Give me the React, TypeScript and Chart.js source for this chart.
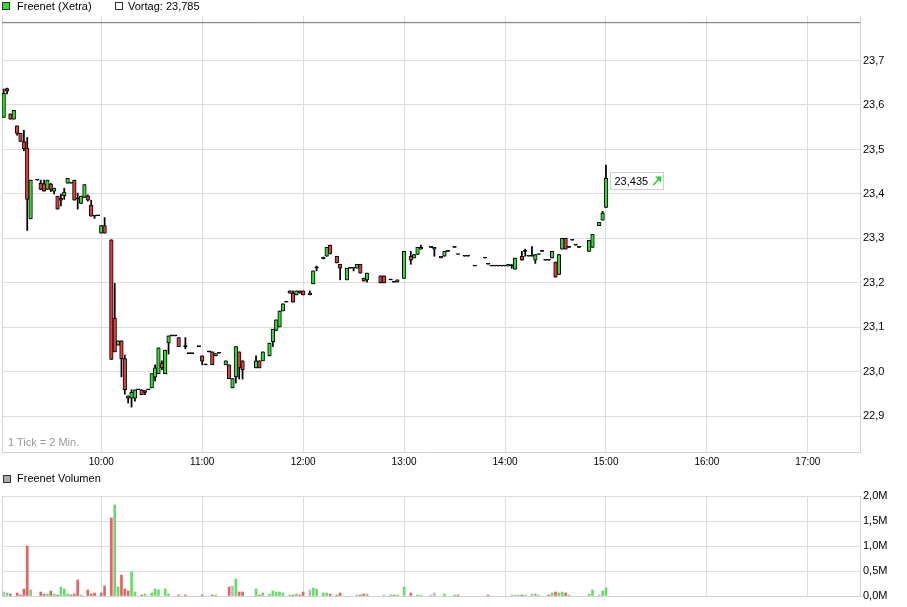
import React, { useEffect, useRef } from "react";
import { Chart, registerables } from "chart.js";

Chart.register(...registerables);

// ---------- data ----------
const instrumentName = "Freenet (Xetra)";
const volumeName = "Freenet Volumen";
const previousClose = 23.785;
const tickNote = "1 Tick = 2 Min.";

const axisStart = "09:01";
const axisEnd = "17:31";
const priceMin = 22.82;
const priceMax = 23.8;
const volumeMax = 2000000;

const timeTickLabels = ["10:00", "11:00", "12:00", "13:00", "14:00", "15:00", "16:00", "17:00"];
const priceTicks = [22.9, 23.0, 23.1, 23.2, 23.3, 23.4, 23.5, 23.6, 23.7];
const volumeTicks = [0, 500000, 1000000, 1500000, 2000000];

const candleTimes = [
  "09:02", "09:04", "09:06", "09:08", "09:10", "09:12", "09:14", "09:16", "09:18", "09:22",
  "09:24", "09:26", "09:28", "09:30", "09:32", "09:34", "09:36", "09:38", "09:40", "09:42",
  "09:44", "09:46", "09:48", "09:50", "09:52", "09:54", "09:56", "09:58", "10:00", "10:02",
  "10:06", "10:08", "10:10", "10:12", "10:14", "10:16", "10:18", "10:20", "10:22", "10:24",
  "10:26", "10:28", "10:30", "10:32", "10:34", "10:36", "10:38", "10:40", "10:42", "10:44",
  "10:46", "10:50", "10:52", "10:54", "10:58", "11:00", "11:02", "11:04", "11:06", "11:08",
  "11:10", "11:14", "11:16", "11:18", "11:20", "11:22", "11:24", "11:32", "11:34", "11:36",
  "11:40", "11:42", "11:44", "11:46", "11:48", "11:50", "11:52", "11:54", "11:56", "11:58",
  "12:00", "12:04", "12:06", "12:08", "12:12", "12:14", "12:16", "12:20", "12:22", "12:26",
  "12:28", "12:30", "12:32", "12:34", "12:36", "12:38", "12:46", "12:48", "12:52", "12:54",
  "12:56", "13:00", "13:04", "13:06", "13:08", "13:10", "13:16", "13:18", "13:22", "13:24",
  "13:26", "13:30", "13:32", "13:36", "13:38", "13:42", "13:48", "13:50", "13:52", "13:54",
  "13:56", "13:58", "14:00", "14:02", "14:04", "14:06", "14:10", "14:12", "14:14", "14:16",
  "14:18", "14:20", "14:22", "14:24", "14:26", "14:28", "14:30", "14:32", "14:34", "14:36",
  "14:38", "14:40", "14:42", "14:44", "14:50", "14:52", "14:56", "14:58", "15:00",
];

const opens = [
  23.572, 23.637, 23.58, 23.568, 23.553, 23.536, 23.518, 23.503, 23.344, 23.431,
  23.424, 23.423, 23.41, 23.422, 23.406, 23.395, 23.391, 23.396, 23.424, 23.424,
  23.431, 23.389, 23.379, 23.392, 23.396, 23.375, 23.35, 23.351, 23.312, 23.329,
  23.297, 23.121, 23.06, 23.07, 23.03, 22.946, 22.941, 22.941, 22.96, 22.96,
  22.958, 22.96, 22.964, 22.988, 22.996, 23.02, 22.996, 23.065, 23.081, 23.081,
  23.077, 23.057, 23.041, 23.041, 23.057, 23.036, 23.016, 23.045, 23.045, 23.036,
  23.042, 23.016, 23.016, 22.964, 22.989, 23.045, 23.025, 23.009, 23.025, 23.025,
  23.036, 23.068, 23.093, 23.101, 23.137, 23.157, 23.182, 23.177, 23.173, 23.182,
  23.182, 23.177, 23.198, 23.234, 23.254, 23.26, 23.285, 23.26, 23.242, 23.207,
  23.233, 23.233, 23.233, 23.242, 23.211, 23.207, 23.216, 23.216, 23.207, 23.202,
  23.202, 23.21, 23.26, 23.256, 23.264, 23.276, 23.28, 23.276, 23.26, 23.26,
  23.271, 23.28, 23.264, 23.26, 23.26, 23.238, 23.256, 23.242, 23.238, 23.238,
  23.238, 23.238, 23.238, 23.238, 23.238, 23.231, 23.26, 23.271, 23.26, 23.26,
  23.251, 23.264, 23.271, 23.251, 23.251, 23.256, 23.247, 23.219, 23.276, 23.3,
  23.28, 23.296, 23.285, 23.28, 23.271, 23.28, 23.329, 23.341, 23.37,
];

const highs = [
  23.636, 23.638, 23.58, 23.588, 23.553, 23.536, 23.543, 23.527, 23.431, 23.431,
  23.431, 23.431, 23.431, 23.424, 23.413, 23.395, 23.4, 23.413, 23.435, 23.424,
  23.431, 23.402, 23.395, 23.421, 23.398, 23.386, 23.35, 23.351, 23.329, 23.347,
  23.297, 23.199, 23.07, 23.07, 23.038, 22.946, 22.96, 22.96, 22.96, 22.96,
  22.958, 22.96, 22.996, 23.016, 23.054, 23.025, 23.049, 23.081, 23.081, 23.081,
  23.077, 23.077, 23.041, 23.041, 23.057, 23.036, 23.016, 23.045, 23.045, 23.041,
  23.042, 23.025, 23.016, 22.985, 23.057, 23.045, 23.025, 23.036, 23.025, 23.045,
  23.065, 23.096, 23.117, 23.137, 23.153, 23.157, 23.182, 23.182, 23.182, 23.182,
  23.182, 23.182, 23.227, 23.238, 23.258, 23.28, 23.285, 23.26, 23.242, 23.233,
  23.233, 23.233, 23.242, 23.242, 23.211, 23.222, 23.216, 23.216, 23.207, 23.202,
  23.207, 23.271, 23.271, 23.264, 23.28, 23.285, 23.28, 23.28, 23.26, 23.271,
  23.271, 23.28, 23.264, 23.26, 23.26, 23.238, 23.256, 23.242, 23.238, 23.238,
  23.238, 23.238, 23.238, 23.242, 23.242, 23.256, 23.271, 23.276, 23.26, 23.282,
  23.264, 23.264, 23.271, 23.251, 23.251, 23.271, 23.247, 23.264, 23.3, 23.3,
  23.28, 23.296, 23.285, 23.28, 23.296, 23.309, 23.336, 23.361, 23.465,
];

const lows = [
  23.572, 23.625, 23.568, 23.568, 23.532, 23.518, 23.497, 23.318, 23.344, 23.431,
  23.41, 23.406, 23.41, 23.405, 23.4, 23.366, 23.373, 23.388, 23.424, 23.424,
  23.386, 23.366, 23.379, 23.392, 23.384, 23.35, 23.345, 23.351, 23.312, 23.312,
  23.028, 23.045, 23.06, 22.989, 22.95, 22.93, 22.921, 22.934, 22.96, 22.949,
  22.949, 22.96, 22.964, 22.98, 22.996, 23.005, 22.996, 23.04, 23.081, 23.081,
  23.057, 23.052, 23.041, 23.041, 23.057, 23.016, 23.016, 23.045, 23.016, 23.036,
  23.042, 23.016, 22.985, 22.964, 22.975, 22.984, 22.984, 23.009, 23.009, 23.025,
  23.036, 23.057, 23.093, 23.101, 23.137, 23.157, 23.177, 23.157, 23.173, 23.177,
  23.173, 23.173, 23.198, 23.227, 23.254, 23.26, 23.265, 23.245, 23.207, 23.207,
  23.233, 23.227, 23.233, 23.222, 23.204, 23.202, 23.2, 23.2, 23.207, 23.202,
  23.202, 23.21, 23.242, 23.256, 23.264, 23.276, 23.28, 23.26, 23.256, 23.26,
  23.271, 23.28, 23.264, 23.26, 23.26, 23.238, 23.256, 23.242, 23.238, 23.238,
  23.238, 23.238, 23.238, 23.238, 23.233, 23.231, 23.251, 23.26, 23.26, 23.26,
  23.244, 23.264, 23.271, 23.251, 23.251, 23.256, 23.213, 23.219, 23.276, 23.276,
  23.28, 23.296, 23.285, 23.28, 23.271, 23.28, 23.329, 23.341, 23.37,
];

const closes = [
  23.626, 23.631, 23.568, 23.588, 23.536, 23.518, 23.502, 23.388, 23.431, 23.431,
  23.41, 23.406, 23.431, 23.41, 23.413, 23.366, 23.386, 23.404, 23.435, 23.424,
  23.386, 23.389, 23.395, 23.421, 23.386, 23.35, 23.35, 23.351, 23.329, 23.312,
  23.028, 23.045, 23.07, 23.03, 22.96, 22.941, 22.954, 22.96, 22.96, 22.949,
  22.954, 22.96, 22.996, 23.009, 23.054, 23.009, 23.049, 23.081, 23.081, 23.081,
  23.057, 23.057, 23.041, 23.041, 23.057, 23.024, 23.016, 23.045, 23.016, 23.041,
  23.042, 23.025, 22.985, 22.985, 23.057, 23.009, 23.005, 23.025, 23.009, 23.045,
  23.065, 23.096, 23.117, 23.137, 23.153, 23.157, 23.177, 23.157, 23.182, 23.177,
  23.173, 23.173, 23.227, 23.234, 23.258, 23.28, 23.265, 23.245, 23.233, 23.233,
  23.233, 23.233, 23.242, 23.222, 23.204, 23.222, 23.2, 23.2, 23.207, 23.202,
  23.207, 23.271, 23.251, 23.264, 23.28, 23.28, 23.28, 23.28, 23.256, 23.271,
  23.271, 23.28, 23.264, 23.26, 23.26, 23.238, 23.256, 23.242, 23.238, 23.238,
  23.238, 23.238, 23.238, 23.242, 23.238, 23.256, 23.251, 23.271, 23.26, 23.26,
  23.264, 23.264, 23.271, 23.251, 23.251, 23.271, 23.213, 23.264, 23.3, 23.276,
  23.28, 23.296, 23.285, 23.28, 23.296, 23.309, 23.336, 23.357, 23.435,
];

const volumeTimes = [
  "09:02", "09:04", "09:06", "09:10", "09:12", "09:14", "09:16", "09:18", "09:24", "09:26",
  "09:28", "09:30", "09:32", "09:34", "09:36", "09:38", "09:40", "09:42", "09:44", "09:46",
  "09:48", "09:52", "09:54", "09:56", "10:00", "10:02", "10:06", "10:08", "10:10", "10:12",
  "10:14", "10:16", "10:18", "10:20", "10:24", "10:26", "10:30", "10:32", "10:34", "10:38",
  "10:40", "10:46", "10:50", "11:00", "11:06", "11:08", "11:16", "11:18", "11:20", "11:22",
  "11:24", "11:32", "11:34", "11:36", "11:40", "11:42", "11:44", "11:46", "11:48", "11:52",
  "11:54", "11:56", "11:58", "12:00", "12:04", "12:06", "12:08", "12:12", "12:14", "12:16",
  "12:20", "12:22", "12:32", "12:34", "12:36", "12:38", "12:48", "12:52", "12:54", "12:56",
  "13:00", "13:04", "13:08", "13:10", "13:16", "13:18", "13:24", "13:30", "13:32", "13:50",
  "14:04", "14:06", "14:08", "14:10", "14:12", "14:16", "14:18", "14:20", "14:26", "14:28",
  "14:30", "14:32", "14:34", "14:36", "14:38", "14:50", "14:52", "14:56", "14:58", "15:00",
];

const volumes = [
  80000, 60000, 40000, 60000, 20000, 140000, 1000000, 120000, 80000, 40000,
  40000, 100000, 40000, 20000, 180000, 140000, 40000, 20000, 40000, 320000,
  20000, 120000, 40000, 60000, 60000, 200000, 1560000, 1820000, 180000, 420000,
  140000, 100000, 480000, 80000, 20000, 40000, 60000, 140000, 120000, 140000,
  40000, 20000, 20000, 20000, 20000, 20000, 180000, 200000, 340000, 80000,
  80000, 140000, 20000, 60000, 40000, 100000, 80000, 80000, 60000, 20000,
  20000, 40000, 20000, 80000, 120000, 160000, 140000, 60000, 60000, 40000,
  20000, 60000, 20000, 20000, 40000, 40000, 20000, 20000, 20000, 20000,
  180000, 60000, 20000, 20000, 20000, 60000, 40000, 20000, 20000, 20000,
  20000, 20000, 20000, 20000, 20000, 40000, 40000, 20000, 20000, 60000,
  80000, 60000, 80000, 60000, 20000, 40000, 120000, 20000, 100000, 160000,
];

// "u" = up, "d" = down, "f" = flat
const volumeDirections = [
  "f", "u", "d", "d", "d", "d", "d", "u", "d", "d",
  "u", "d", "u", "d", "u", "u", "u", "d", "d", "d",
  "u", "d", "d", "d", "d", "d", "d", "u", "u", "d",
  "d", "d", "u", "u", "d", "u", "u", "u", "u", "u",
  "u", "d", "d", "d", "d", "u", "d", "f", "u", "d",
  "d", "u", "d", "u", "u", "u", "u", "u", "u", "u",
  "d", "u", "d", "d", "f", "u", "u", "u", "u", "d",
  "d", "d", "u", "d", "d", "u", "f", "u", "d", "u",
  "u", "d", "u", "f", "f", "f", "u", "u", "d", "d",
  "f", "u", "f", "d", "u", "f", "u", "f", "d", "u",
  "d", "u", "u", "d", "u", "u", "u", "f", "u", "u",
];

// ---------- helpers ----------
const FONT = "'Liberation Sans', Arial, sans-serif";
const GRID = "#dddddd";
const UP = "#33dd33";
const DOWN = "#dd3f3f";

const toMin = (t: string) => {
  const [h, m] = t.split(":").map(Number);
  return h * 60 + m;
};
const fmtTime = (v: number) => {
  const h = Math.floor(v / 60);
  const m = Math.round(v - h * 60);
  return `${String(h).padStart(2, "0")}:${String(m).padStart(2, "0")}`;
};
const comma = (v: number, d: number) => v.toFixed(d).replace(".", ",");

const xMin = toMin(axisStart);
const xMax = toMin(axisEnd);

const timeScale = (showLabels: boolean, height: number) => ({
  type: "linear",
  min: xMin,
  max: xMax,
  offset: false,
  afterBuildTicks: (s: any) => {
    s.ticks = timeTickLabels.map((t) => ({ value: toMin(t) }));
  },
  afterFit: (s: any) => {
    s.height = height;
  },
  grid: { color: GRID, lineWidth: 1, drawTicks: false, offset: false },
  border: { display: false },
  ticks: {
    display: showLabels,
    padding: 4,
    color: "#000",
    font: { family: FONT, size: 10 },
    maxRotation: 0,
    autoSkip: false,
    callback: (v: any) => fmtTime(Number(v)),
  },
});

const framePlugin = {
  id: "frame",
  beforeDatasetsDraw(chart: any) {
    const { ctx, chartArea: a } = chart;
    ctx.save();
    ctx.strokeStyle = "#d2d2d2";
    ctx.lineWidth = 1;
    ctx.beginPath();
    ctx.moveTo(Math.round(a.left) + 0.5, a.top);
    ctx.lineTo(Math.round(a.left) + 0.5, Math.round(a.bottom) + 0.5);
    ctx.lineTo(Math.round(a.right) + 0.5, Math.round(a.bottom) + 0.5);
    ctx.lineTo(Math.round(a.right) + 0.5, a.top);
    ctx.stroke();
    ctx.restore();
  },
};

const lastPricePlugin = {
  id: "lastPrice",
  afterDatasetsDraw(chart: any) {
    const i = closes.length - 1;
    const x = chart.scales.x.getPixelForValue(toMin(candleTimes[i]));
    const y = chart.scales.y.getPixelForValue(closes[i]);
    const ctx = chart.ctx;
    const text = comma(closes[i], 3);
    ctx.save();
    ctx.font = `11px ${FONT}`;
    const tw = ctx.measureText(text).width;
    const bx = Math.round(x + 4) + 0.5;
    const by = Math.round(y - 6) + 0.5;
    const bw = Math.round(tw + 19);
    const bh = 17;
    ctx.fillStyle = "#ffffff";
    ctx.fillRect(bx, by, bw, bh);
    ctx.strokeStyle = "#cfcfcf";
    ctx.lineWidth = 1;
    ctx.strokeRect(bx, by, bw, bh);
    ctx.fillStyle = "#000";
    ctx.textBaseline = "middle";
    ctx.fillText(text, bx + 4, by + bh / 2 + 0.5);
    // green up-arrow
    const ax = bx + 4 + tw + 5;
    const ay = by + bh / 2;
    ctx.strokeStyle = "#22cc22";
    ctx.fillStyle = "#22cc22";
    ctx.lineWidth = 1.6;
    ctx.beginPath();
    ctx.moveTo(ax, ay + 4);
    ctx.lineTo(ax + 5.5, ay - 1.5);
    ctx.stroke();
    ctx.beginPath();
    ctx.moveTo(ax + 8, ay - 4.5);
    ctx.lineTo(ax + 8, ay + 1.5);
    ctx.lineTo(ax + 2, ay - 4.5);
    ctx.closePath();
    ctx.fill();
    ctx.restore();
  },
};

function PriceChart() {
  const ref = useRef<HTMLCanvasElement | null>(null);
  useEffect(() => {
    if (!ref.current) return;
    const bodyColors = candleTimes.map((_, i) =>
      closes[i] > opens[i] ? UP : closes[i] < opens[i] ? DOWN : "#000000"
    );
    const chart = new Chart(ref.current, {
      type: "bar",
      data: {
        datasets: [
          {
            type: "bar",
            label: "body",
            data: candleTimes.map((t, i) => ({ x: toMin(t), y: [opens[i], closes[i]] })),
            backgroundColor: bodyColors,
            borderColor: "#000000",
            borderWidth: 1,
            borderSkipped: false,
            barThickness: 3.6,
            minBarLength: 1,
            grouped: false,
            order: 0,
          } as any,
          {
            type: "bar",
            label: "wick",
            data: candleTimes.map((t, i) => ({ x: toMin(t), y: [lows[i], highs[i]] })),
            backgroundColor: "#000000",
            borderWidth: 0,
            barThickness: 1.1,
            grouped: false,
            order: 1,
          } as any,
          {
            type: "line",
            label: "Vortag",
            data: [
              { x: xMin, y: previousClose },
              { x: xMax, y: previousClose },
            ],
            borderColor: "#6e6e6e",
            borderWidth: 1,
            pointRadius: 0,
            order: 2,
          } as any,
        ],
      },
      options: {
        animation: false,
        responsive: false,
        events: [],
        layout: { padding: { left: 2, top: 16, right: 0, bottom: 0 } },
        plugins: { legend: { display: false }, tooltip: { enabled: false } },
        scales: {
          x: timeScale(true, 18) as any,
          y: {
            type: "linear",
            position: "right",
            min: priceMin,
            max: priceMax,
            afterBuildTicks: (s: any) => {
              s.ticks = priceTicks.map((v) => ({ value: v }));
            },
            afterFit: (s: any) => {
              s.width = 47;
            },
            grid: { color: GRID, lineWidth: 1, drawTicks: false },
            border: { display: false },
            ticks: {
              padding: 3,
              color: "#000",
              font: { family: FONT, size: 11 },
              callback: (v: any) => comma(Number(v), 1),
            },
          },
        },
      },
      plugins: [framePlugin, lastPricePlugin],
    } as any);
    return () => chart.destroy();
  }, []);
  return <canvas ref={ref} width={907} height={470} style={{ display: "block" }} />;
}

function VolumeChart() {
  const ref = useRef<HTMLCanvasElement | null>(null);
  useEffect(() => {
    if (!ref.current) return;
    const colorOf: Record<string, string> = { u: "#66dd66", d: "#dd6666", f: "#bbbbbb" };
    const chart = new Chart(ref.current, {
      type: "bar",
      data: {
        datasets: [
          {
            label: volumeName,
            data: volumeTimes.map((t, i) => ({ x: toMin(t), y: volumes[i] })),
            backgroundColor: volumeDirections.map((d) => colorOf[d]),
            borderWidth: 0,
            barThickness: 2,
            grouped: false,
          } as any,
        ],
      },
      options: {
        animation: false,
        responsive: false,
        events: [],
        layout: { padding: { left: 2, top: 26, right: 0, bottom: 0 } },
        plugins: { legend: { display: false }, tooltip: { enabled: false } },
        scales: {
          x: timeScale(false, 11) as any,
          y: {
            type: "linear",
            position: "right",
            min: 0,
            max: volumeMax,
            afterBuildTicks: (s: any) => {
              s.ticks = volumeTicks.map((v) => ({ value: v }));
            },
            afterFit: (s: any) => {
              s.width = 47;
            },
            grid: { color: GRID, lineWidth: 1, drawTicks: false },
            border: { display: false },
            ticks: {
              padding: 3,
              color: "#000",
              font: { family: FONT, size: 11 },
              callback: (v: any) => comma(Number(v) / 1000000, 1) + "M",
            },
          },
        },
      },
      plugins: [framePlugin],
    } as any);
    return () => chart.destroy();
  }, []);
  return <canvas ref={ref} width={907} height={137} style={{ display: "block" }} />;
}

const textStyle: React.CSSProperties = {
  position: "absolute",
  fontFamily: FONT,
  fontSize: 11,
  lineHeight: "13px",
  color: "#000",
  whiteSpace: "nowrap",
};

const square = (left: number, top: number, bg: string): React.CSSProperties => ({
  position: "absolute",
  left,
  top,
  width: 8,
  height: 8,
  boxSizing: "border-box",
  border: "1px solid #333",
  background: bg,
});

export default function App() {
  return (
    <div
      style={{
        position: "absolute",
        left: 0,
        top: 0,
        width: 907,
        height: 607,
        background: "#ffffff",
        overflow: "hidden",
      }}
    >
      <div style={{ position: "absolute", left: 0, top: 0 }}>
        <PriceChart />
      </div>
      <div style={{ position: "absolute", left: 0, top: 470 }}>
        <VolumeChart />
      </div>
      <div style={square(2, 2, "#33dd33")} />
      <div style={{ ...textStyle, left: 17, top: 0 }}>{instrumentName}</div>
      <div style={square(115, 2, "#ffffff")} />
      <div style={{ ...textStyle, left: 128, top: 0 }}>Vortag: {comma(previousClose, 3)}</div>
      <div style={{ ...textStyle, left: 8, top: 436, color: "#999999" }}>{tickNote}</div>
      <div style={square(3, 475, "#aaaaaa")} />
      <div style={{ ...textStyle, left: 17, top: 472 }}>{volumeName}</div>
    </div>
  );
}
